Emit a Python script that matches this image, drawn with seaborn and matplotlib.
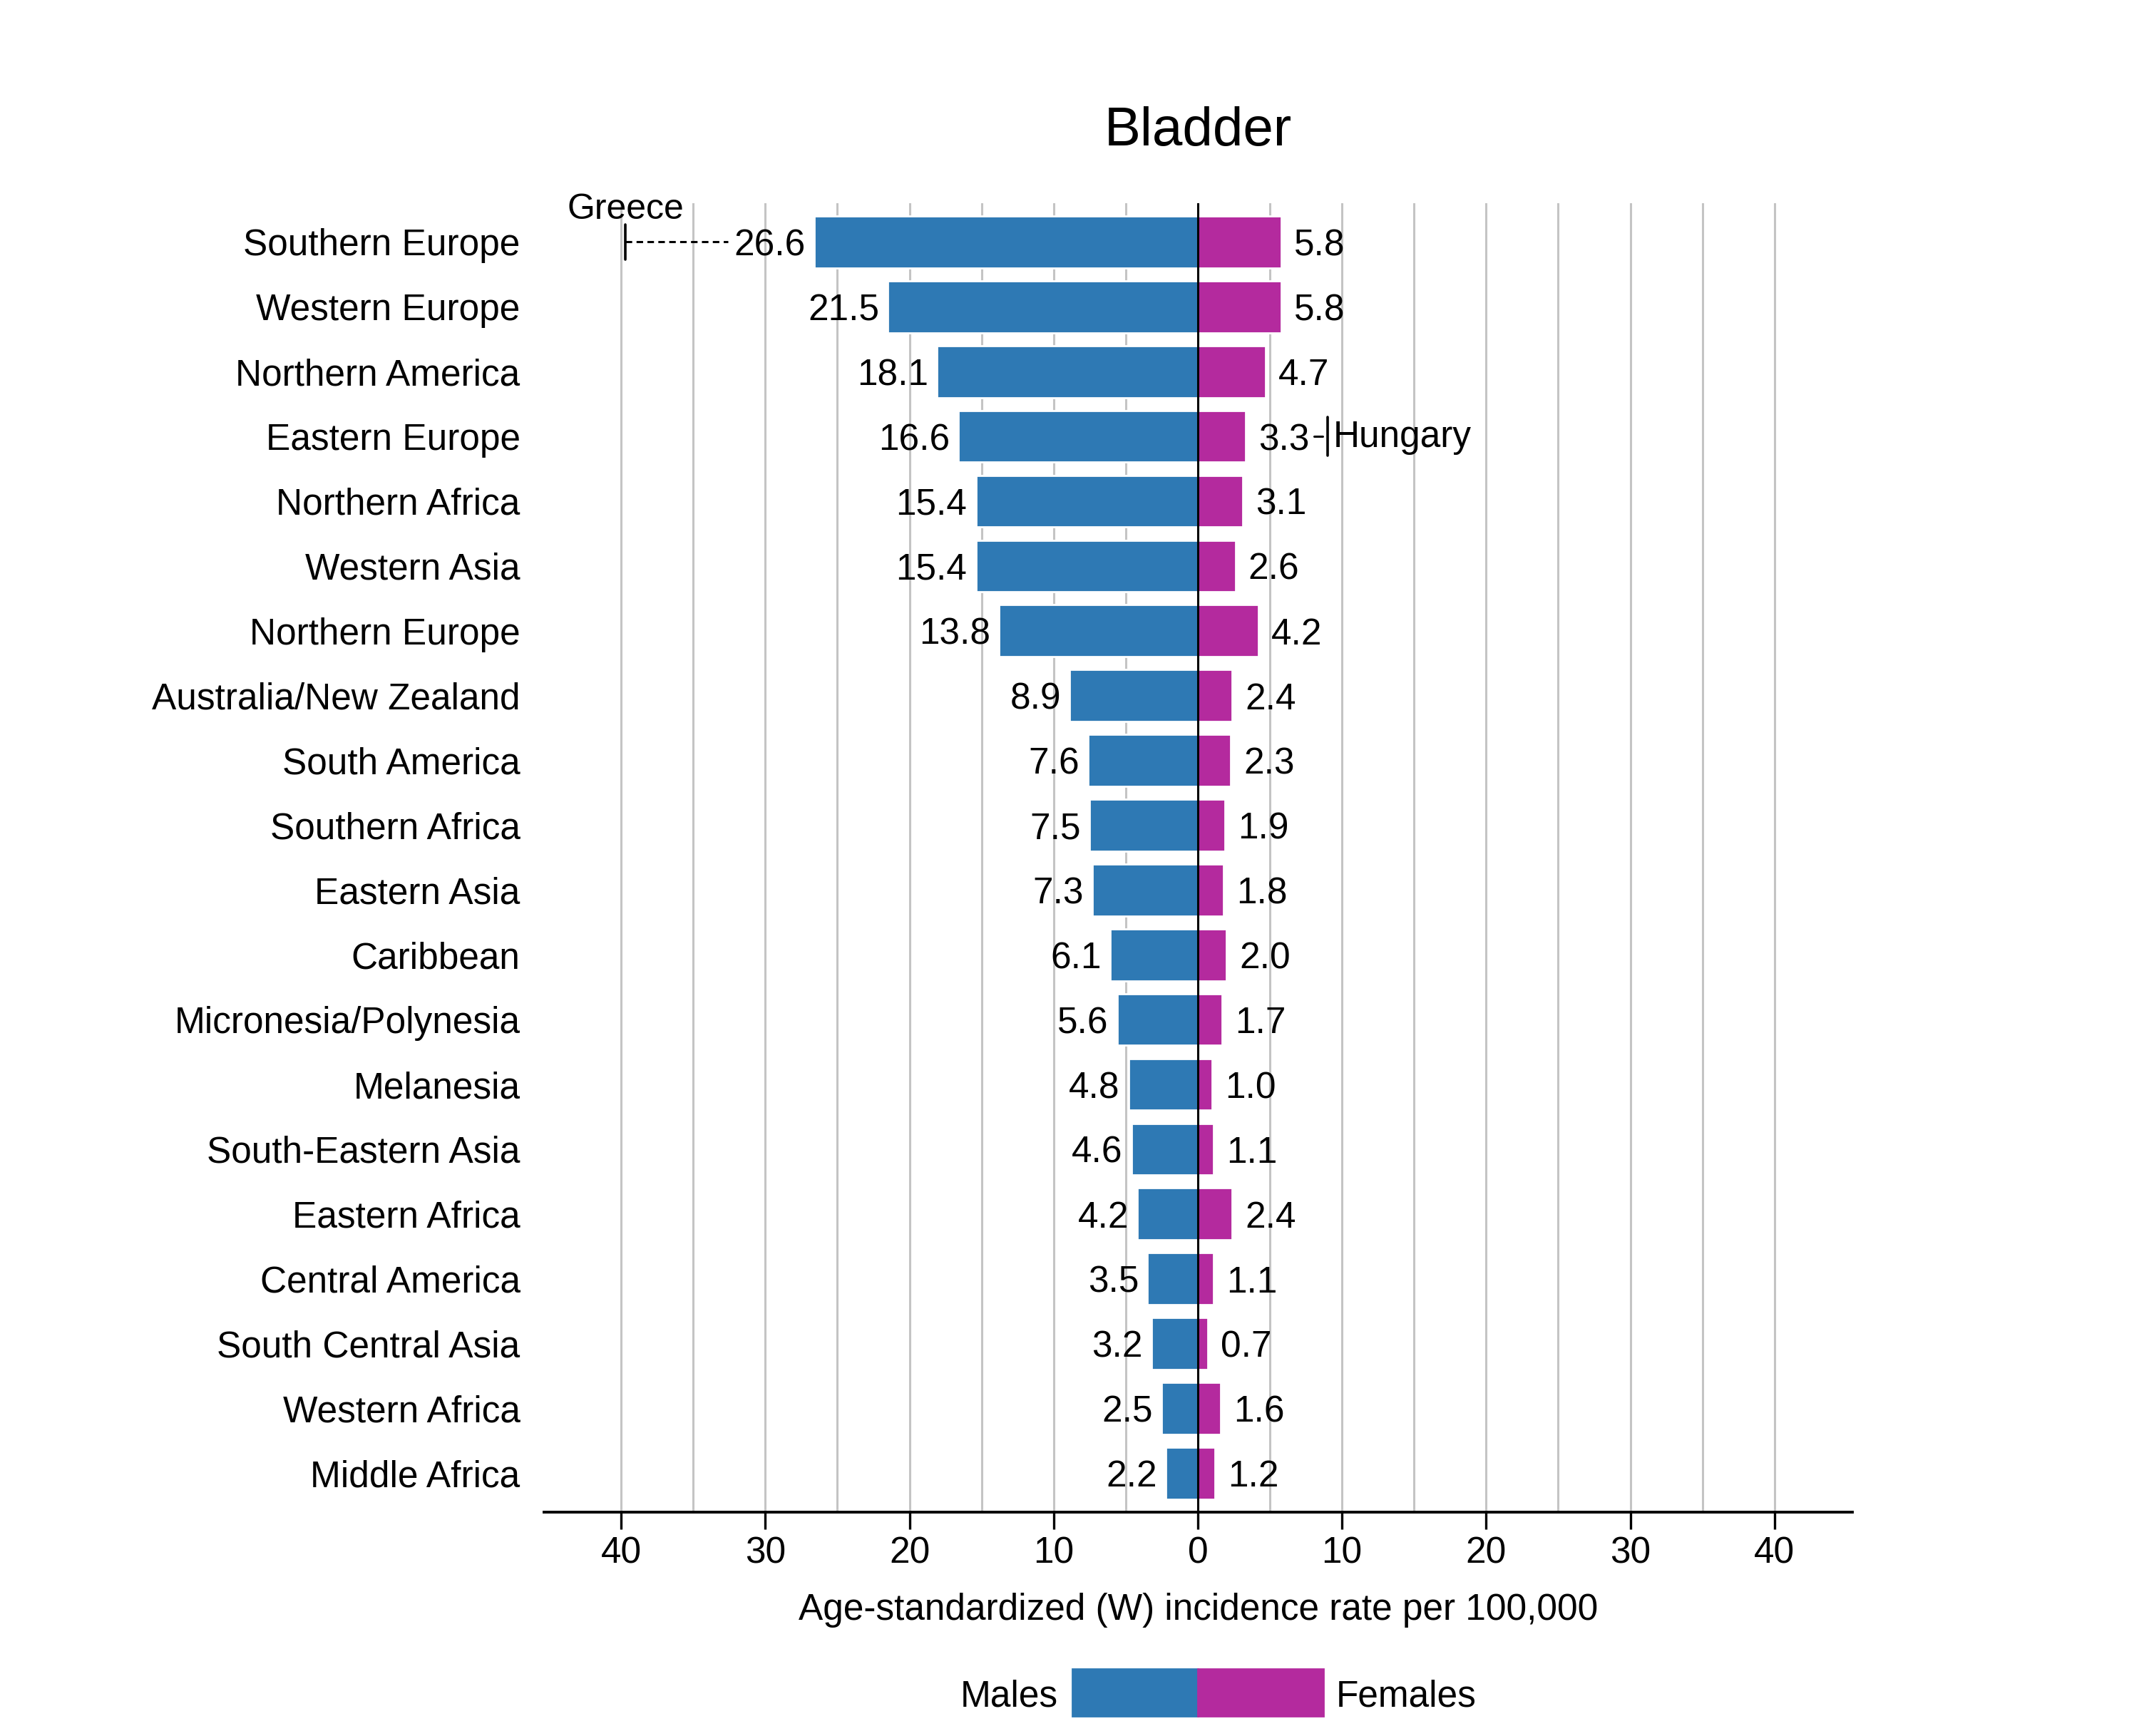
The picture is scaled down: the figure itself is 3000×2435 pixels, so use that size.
import numpy as np
import pandas as pd
import seaborn as sns
import matplotlib as mpl
from matplotlib import pyplot as plt
from matplotlib import transforms

regions = ['Southern Europe', 'Western Europe', 'Northern America', 'Eastern Europe',
           'Northern Africa', 'Western Asia', 'Northern Europe', 'Australia/New Zealand',
           'South America', 'Southern Africa', 'Eastern Asia', 'Caribbean',
           'Micronesia/Polynesia', 'Melanesia', 'South-Eastern Asia', 'Eastern Africa',
           'Central America', 'South Central Asia', 'Western Africa', 'Middle Africa']
males = [26.6, 21.5, 18.1, 16.6, 15.4, 15.4, 13.8, 8.9, 7.6, 7.5,
         7.3, 6.1, 5.6, 4.8, 4.6, 4.2, 3.5, 3.2, 2.5, 2.2]
females = [5.8, 5.8, 4.7, 3.3, 3.1, 2.6, 4.2, 2.4, 2.3, 1.9,
           1.8, 2.0, 1.7, 1.0, 1.1, 2.4, 1.1, 0.7, 1.6, 1.2]
# highest country within region
male_max = ('Greece', 'Southern Europe', 39.7)
female_max = ('Hungary', 'Eastern Europe', 9.0)
ticks = [-40, -30, -20, -10, 0, 10, 20, 30, 40]

blue = '#2e79b4'
magenta = '#b42a9e'

sns.set_style('white')
plt.rcParams['font.family'] = ['Liberation Sans', 'DejaVu Sans']
plt.rcParams['text.color'] = 'black'
plt.rcParams['xtick.color'] = 'black'
plt.rcParams['ytick.color'] = 'black'
plt.rcParams['axes.labelcolor'] = 'black'
fs = 18.5

df = pd.DataFrame({'region': regions, 'males': -np.array(males), 'females': females})

fig = plt.figure(figsize=(15, 12.175), dpi=200)
ax = fig.add_axes([0.2543, 0.129, 0.6117, 0.754])

sns.barplot(data=df, x='males', y='region', color=blue, width=0.8, saturation=1, ax=ax, zorder=3)
sns.barplot(data=df, x='females', y='region', color=magenta, width=0.8, saturation=1, ax=ax, zorder=3)

ax.set_xlim(-45.35, 45.4)
ax.set_ylim(len(regions) - 0.4, -0.6)
ax.set_xticks(ticks)
ax.set_xticklabels([str(abs(t)) for t in ticks], fontsize=fs)
ax.set_xticks(np.arange(-40, 41, 5), minor=True)
ax.grid(True, which='both', axis='x', color='#c4c4c4', lw=1.1, zorder=0)
ax.tick_params(axis='x', which='major', direction='out', length=8.6, width=1.2,
               color='black', bottom=True, pad=3.5)
ax.tick_params(axis='x', which='minor', length=0)
ax.tick_params(axis='y', length=0, labelsize=fs, pad=12)
ax.axvline(0, color='black', lw=1.1, zorder=4)
for s in ['top', 'right', 'left']:
    ax.spines[s].set_visible(False)
ax.spines['bottom'].set_color('black')
ax.spines['bottom'].set_linewidth(1.4)
ax.set_ylabel('')
ax.set_xlabel('Age-standardized (W) incidence rate per 100,000', fontsize=fs, labelpad=11)
ax.set_title('Bladder', fontsize=27.5, pad=29)

# value labels
for i, (m, f) in enumerate(zip(males, females)):
    ax.text(-m - 0.6, i, f'{m:.1f}', ha='right', va='center_baseline', fontsize=fs)
    ax.text(f + 0.9, i, f'{f:.1f}', ha='left', va='center_baseline', fontsize=fs)

# country maxima
name, reg, val = male_max
i = regions.index(reg)
m = males[i]
ax.plot([-val, -(m + 6.0)], [i, i], color='black', lw=1.1, ls=(0, (3, 2)))
ax.plot([-val, -val], [i - 0.27, i + 0.27], color='black', lw=1.3)
ax.text(-val, i - 0.36, name, ha='center', va='baseline', fontsize=fs - 0.5)

name, reg, val = female_max
i = regions.index(reg)
f = females[i]
ax.plot([f + 4.75, f + 5.35], [i, i], color='black', lw=1.1)
ax.plot([val, val], [i - 0.3, i + 0.3], color='black', lw=1.3)
ax.text(val + 0.4, i - 0.05, name, ha='left', va='center_baseline', fontsize=fs)

# legend under the axis
tr = transforms.blended_transform_factory(ax.transData, fig.transFigure)
ax.add_patch(mpl.patches.Rectangle((-8.7, 0.0115), 8.7, 0.027, color=blue, transform=tr, clip_on=False))
ax.add_patch(mpl.patches.Rectangle((0, 0.0115), 8.7, 0.027, color=magenta, transform=tr, clip_on=False))
ax.text(-9.7, 0.025, 'Males', ha='right', va='center_baseline', fontsize=fs, transform=tr)
ax.text(9.6, 0.025, 'Females', ha='left', va='center_baseline', fontsize=fs, transform=tr)

fig.savefig('out.png', dpi=200)
